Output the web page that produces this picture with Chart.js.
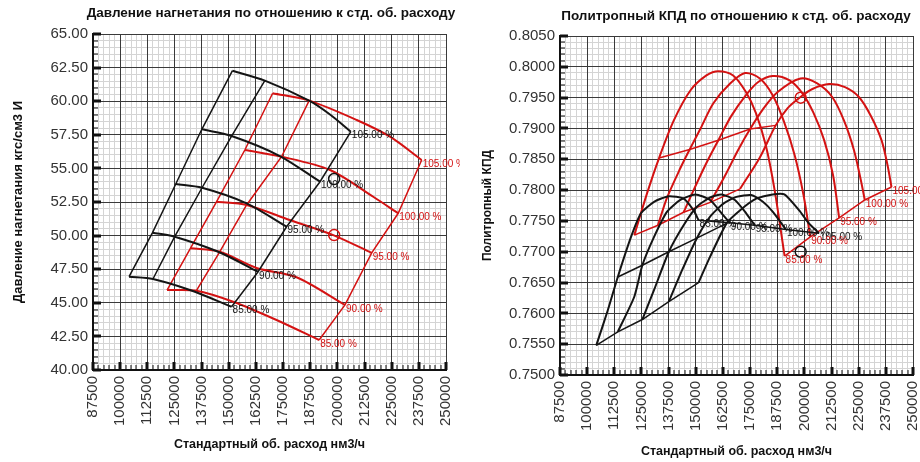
<!DOCTYPE html>
<html>
<head>
<meta charset="utf-8">
<script src="https://cdn.jsdelivr.net/npm/chart.js@4.4.0/dist/chart.umd.min.js"></script>
<style>
    body { margin: 0; background: #fff; width: 920px; height: 462px; overflow: hidden; font-family: "Liberation Sans", Arial, sans-serif; }
    .panel { position: absolute; top: 0; width: 460px; height: 462px; }
    .ttl { position: absolute; font-weight: bold; font-size: 13.5px; line-height: 16px; white-space: nowrap; transform: translateX(-50%); color: #111; }
</style>
</head>
<body>
<div class="panel" style="left:0">
    <canvas id="pressureChart" width="460" height="462"></canvas>
    <div class="ttl" style="left:271px;top:5px">Давление нагнетания по отношению к стд. об. расходу</div>
</div>
<div class="panel" style="left:460px">
    <canvas id="effChart" width="460" height="462"></canvas>
    <div class="ttl" style="left:276px;top:8px">Политропный КПД по отношению к стд. об. расходу</div>
</div>
<script>
const speedLabels = ['85.00 %', '90.00 %', '95.00 %', '100.00 %', '105.00 %'];
const xTicks = { min: 87500, max: 250000, step: 12500, minor: 2500 };

// давление нагнетания - черная карта
const pBlack85 = [[104100, 46.94], [115100, 46.77], [132100, 45.95], [151300, 44.71]];
const pBlack90 = [[114900, 50.22], [125100, 49.92], [145100, 48.80], [163500, 47.31]];
const pBlack95 = [[125600, 53.84], [137700, 53.56], [158200, 52.40], [176600, 50.66]];
const pBlack100 = [[137600, 57.91], [151300, 57.41], [173500, 55.92], [192000, 54.01]];
const pBlack105 = [[151700, 62.27], [166600, 61.53], [187000, 60.04], [196600, 59.01], [206200, 57.73]];
const pBlackSurge = [[104100, 46.94], [114900, 50.22], [125600, 53.84], [137600, 57.91], [151700, 62.27]];
const pBlackMid = [[115100, 46.77], [125100, 49.92], [137700, 53.56], [151300, 57.41], [166600, 61.53]];
const pBlackChoke = [[151300, 44.71], [163500, 47.31], [176600, 50.66], [192000, 54.01], [206200, 57.73]];
// давление нагнетания - красная карта
const pRed85 = [[121600, 45.95], [135100, 45.90], [152000, 45.08], [172000, 43.72], [191600, 42.23]];
const pRed90 = [[132400, 49.06], [145900, 48.80], [162800, 47.59], [181200, 46.90], [203500, 44.84]];
const pRed95 = [[144400, 52.52], [158200, 52.28], [178100, 51.16], [198100, 50.04], [215800, 48.71]];
const pRed100 = [[157400, 56.37], [174300, 55.87], [196600, 54.88], [216500, 52.89], [228000, 51.66]];
const pRed105 = [[170200, 60.59], [187000, 60.04], [208900, 58.60], [224200, 57.36], [238800, 55.63]];
const pRedSurge = [[121600, 45.95], [132400, 49.06], [144400, 52.52], [157400, 56.37], [170200, 60.59]];
const pRedMid = [[135100, 45.90], [145900, 48.80], [158200, 52.28], [174300, 55.87], [187000, 60.04]];
const pRedChoke = [[191600, 42.23], [203500, 44.84], [215800, 48.71], [228000, 51.66], [238800, 55.63]];
const pOpBlack = [[198500, 54.21]];
const pOpRed = [[198500, 50.04]];

// политропный КПД - черная карта
const eBlack85 = [[104200, 0.7548], [109500, 0.7605], [114100, 0.7659], [120200, 0.7724], [124700, 0.7762], [130800, 0.7781], [137600, 0.7790], [144400, 0.7786], [149000, 0.7767], [151300, 0.7751]];
const eBlack90 = [[114100, 0.7570], [121700, 0.7627], [125400, 0.7678], [130800, 0.7724], [136800, 0.7765], [142900, 0.7784], [149800, 0.7793], [156600, 0.7784], [162700, 0.7759], [165700, 0.7747]];
const eBlack95 = [[125400, 0.7590], [130800, 0.7638], [137600, 0.7700], [144400, 0.7743], [150500, 0.7773], [156600, 0.7788], [161900, 0.7793], [168000, 0.7784], [173300, 0.7762], [177100, 0.7743]];
const eBlack100 = [[137600, 0.7619], [143700, 0.7670], [150500, 0.7722], [156600, 0.7757], [162700, 0.7778], [168700, 0.7789], [175500, 0.7792], [180900, 0.7781], [185400, 0.7765], [191500, 0.7736]];
const eBlack105 = [[151300, 0.7650], [156600, 0.7692], [164200, 0.7746], [170300, 0.7767], [177800, 0.7786], [185400, 0.7793], [190800, 0.7793], [197600, 0.7767], [202100, 0.7746], [206700, 0.7730]];
const eBlackSurge = [[104200, 0.7548], [114100, 0.7570], [125400, 0.7590], [137600, 0.7619], [151300, 0.7650]];
const eBlackMid = [[114100, 0.7659], [125400, 0.7678], [137600, 0.7700], [150500, 0.7722], [164200, 0.7746]];
const eBlackChoke = [[151300, 0.7751], [165700, 0.7747], [177100, 0.7743], [191500, 0.7736], [206700, 0.7730]];
// политропный КПД - красная карта
const eRed85 = [[121700, 0.7727], [127600, 0.7795], [133100, 0.7852], [139900, 0.7913], [147600, 0.7962], [154900, 0.7986], [160400, 0.7993], [167200, 0.7986], [173100, 0.7959], [177700, 0.7925], [182200, 0.7873], [186300, 0.7800], [190900, 0.7693]];
const eRed90 = [[132600, 0.7743], [136700, 0.7787], [143100, 0.7837], [147200, 0.7866], [152200, 0.7900], [158100, 0.7941], [165800, 0.7973], [172700, 0.7990], [179500, 0.7981], [185400, 0.7954], [190400, 0.7913], [195500, 0.7857], [199600, 0.7792], [202700, 0.7724]];
const eRed95 = [[144400, 0.7764], [149000, 0.7800], [154900, 0.7844], [160400, 0.7881], [166300, 0.7920], [173100, 0.7954], [178600, 0.7975], [185400, 0.7985], [193200, 0.7978], [199100, 0.7957], [204100, 0.7926], [209100, 0.7881], [213200, 0.7824], [216000, 0.7755]];
const eRed100 = [[156700, 0.7780], [164000, 0.7827], [169500, 0.7865], [175000, 0.7899], [180900, 0.7931], [187700, 0.7959], [198200, 0.7981], [205900, 0.7973], [212800, 0.7951], [218200, 0.7913], [222800, 0.7865], [226000, 0.7816], [227800, 0.7784]];
const eRed105 = [[170400, 0.7802], [179500, 0.7853], [186800, 0.7905], [192300, 0.7933], [198200, 0.7951], [203700, 0.7964], [211400, 0.7972], [218700, 0.7967], [225100, 0.7951], [230500, 0.7921], [235500, 0.7881], [238300, 0.7840], [240100, 0.7805]];
const eRedSurge = [[121700, 0.7727], [132600, 0.7743], [144400, 0.7764], [156700, 0.7780], [170400, 0.7802]];
const eRedMid = [[133100, 0.7852], [147200, 0.7866], [160400, 0.7881], [175000, 0.7899], [186800, 0.7905]];
const eRedChoke = [[190900, 0.7693], [202700, 0.7724], [216000, 0.7755], [227800, 0.7784], [240100, 0.7805]];
const eOpBlack = [[198300, 0.7700]];
const eOpRed = [[198300, 0.7950]];

const FONT = '"Liberation Sans", Arial, sans-serif';
const BLACK = '#141414';
const RED = 'rgb(212, 18, 18)';
Chart.defaults.font.family = FONT;
Chart.defaults.color = '#333';

const pts = arr => arr.map(([x, y]) => ({ x, y }));
const curve = (arr, color, label, tension) => ({
    data: pts(arr), borderColor: color, borderWidth: 2, tension: tension,
    pointRadius: 0, showLine: true, fill: false, endLabel: label
});
const straight = (arr, color) => ({
    data: pts(arr), borderColor: color, borderWidth: 1.5, tension: 0,
    pointRadius: 0, showLine: true, fill: false
});
const opPoint = (arr, color) => ({
    data: pts(arr), borderColor: color, backgroundColor: 'rgba(0,0,0,0)',
    pointRadius: 5.5, pointBorderWidth: 1.5, showLine: false
});

// процентные подписи у концов кривых
const endLabels = {
    id: 'endLabels',
    afterDatasetsDraw(chart) {
        const { ctx, scales: { x, y } } = chart;
        ctx.save();
        ctx.font = '10px ' + FONT;
        ctx.textBaseline = 'middle';
        chart.data.datasets.forEach(ds => {
            if (!ds.endLabel) return;
            const last = ds.data[ds.data.length - 1];
            ctx.fillStyle = ds.borderColor;
            ctx.fillText(ds.endLabel, x.getPixelForValue(last.x) + 1, y.getPixelForValue(last.y) + 4);
        });
        ctx.restore();
    }
};

// засечки внутрь поля графика
const innerTicks = {
    id: 'innerTicks',
    afterDraw(chart) {
        const { ctx, chartArea: a, scales: { x, y, xm, ym } } = chart;
        ctx.save();
        ctx.fillStyle = '#111';
        xm.ticks.forEach(t => ctx.fillRect(Math.round(x.getPixelForValue(t.value)) - 0.5, a.bottom - 5, 1, 5));
        x.ticks.forEach(t => ctx.fillRect(Math.round(x.getPixelForValue(t.value)) - 1.5, a.bottom - 8, 3, 8));
        ym.ticks.forEach(t => ctx.fillRect(a.left, Math.round(y.getPixelForValue(t.value)) - 0.5, 5, 1));
        y.ticks.forEach(t => ctx.fillRect(a.left, Math.round(y.getPixelForValue(t.value)) - 1.5, 8, 3));
        ctx.restore();
    }
};

function makeMap(canvasId, datasets, ax) {
    return new Chart(document.getElementById(canvasId), {
        type: 'scatter',
        data: { datasets },
        options: {
            responsive: false,
            animation: false,
            devicePixelRatio: 1,
            layout: { padding: ax.pad },
            plugins: { legend: { display: false }, tooltip: { enabled: false } },
            scales: {
                xm: {
                    type: 'linear', position: 'bottom', min: xTicks.min, max: xTicks.max,
                    ticks: { display: false, stepSize: xTicks.minor, autoSkip: false },
                    grid: { color: '#d4d4d4', drawTicks: false, z: -2 },
                    border: { display: false },
                    afterFit: s => { s.height = 0; s.paddingLeft = 0; s.paddingRight = 0; }
                },
                ym: {
                    type: 'linear', position: 'left', min: ax.yMin, max: ax.yMax,
                    ticks: { display: false, stepSize: ax.yMinor, autoSkip: false },
                    grid: { color: '#d4d4d4', drawTicks: false, z: -2 },
                    border: { display: false },
                    afterFit: s => { s.width = 0; s.paddingTop = 0; s.paddingBottom = 0; }
                },
                x: {
                    type: 'linear', position: 'bottom', min: xTicks.min, max: xTicks.max,
                    ticks: {
                        stepSize: xTicks.step, autoSkip: false, minRotation: 90, maxRotation: 90,
                        padding: 6, color: '#333', font: { size: 15 }, callback: v => String(v)
                    },
                    grid: { color: '#3a3a3a', drawTicks: false },
                    border: { color: '#111', width: 2 },
                    title: {
                        display: true, text: 'Стандартный об. расход нм3/ч', color: '#111',
                        font: { size: 12.5, weight: 'bold' }, padding: { top: 0, bottom: ax.xTitlePad }
                    },
                    afterFit: s => { s.height = ax.xH; s.paddingLeft = 0; s.paddingRight = 0; }
                },
                y: {
                    type: 'linear', position: 'left', min: ax.yMin, max: ax.yMax,
                    ticks: {
                        stepSize: ax.yStep, autoSkip: false, padding: 5, color: '#333',
                        font: { size: 15 }, callback: v => Number(v).toFixed(ax.dec)
                    },
                    grid: { color: '#3a3a3a', drawTicks: false },
                    border: { color: '#111', width: 2 },
                    title: {
                        display: true, text: ax.yTitle, color: '#111',
                        font: { size: ax.yTitleSize, weight: 'bold' }, padding: { top: ax.yTitlePad, bottom: 0 }
                    },
                    afterFit: s => { s.width = ax.yW; s.paddingTop = 0; s.paddingBottom = 0; }
                }
            }
        },
        plugins: [innerTicks, endLabels]
    });
}

const pressureSets = [
    opPoint(pOpBlack, BLACK), opPoint(pOpRed, RED),
    curve(pBlack85, BLACK, speedLabels[0], 0.3), curve(pBlack90, BLACK, speedLabels[1], 0.3),
    curve(pBlack95, BLACK, speedLabels[2], 0.3), curve(pBlack100, BLACK, speedLabels[3], 0.3),
    curve(pBlack105, BLACK, speedLabels[4], 0.3),
    straight(pBlackSurge, BLACK), straight(pBlackMid, BLACK), straight(pBlackChoke, BLACK),
    curve(pRed85, RED, speedLabels[0], 0.3), curve(pRed90, RED, speedLabels[1], 0.3),
    curve(pRed95, RED, speedLabels[2], 0.3), curve(pRed100, RED, speedLabels[3], 0.3),
    curve(pRed105, RED, speedLabels[4], 0.3),
    straight(pRedSurge, RED), straight(pRedMid, RED), straight(pRedChoke, RED)
];

const effSets = [
    opPoint(eOpBlack, BLACK), opPoint(eOpRed, RED),
    curve(eBlack85, BLACK, speedLabels[0], 0.2), curve(eBlack90, BLACK, speedLabels[1], 0.2),
    curve(eBlack95, BLACK, speedLabels[2], 0.2), curve(eBlack100, BLACK, speedLabels[3], 0.2),
    curve(eBlack105, BLACK, speedLabels[4], 0.2),
    straight(eBlackSurge, BLACK), straight(eBlackMid, BLACK), straight(eBlackChoke, BLACK),
    curve(eRed85, RED, speedLabels[0], 0.3), curve(eRed90, RED, speedLabels[1], 0.3),
    curve(eRed95, RED, speedLabels[2], 0.3), curve(eRed100, RED, speedLabels[3], 0.3),
    curve(eRed105, RED, speedLabels[4], 0.3),
    straight(eRedSurge, RED), straight(eRedMid, RED), straight(eRedChoke, RED)
];

makeMap('pressureChart', pressureSets, {
    pad: { top: 34, right: 14, left: 0, bottom: 0 },
    yMin: 40, yMax: 65, yStep: 2.5, yMinor: 0.5, dec: 2,
    yW: 93, xH: 92, yTitlePad: 11, xTitlePad: 10, yTitleSize: 13,
    yTitle: 'Давление нагнетания кгс/см3 И'
});

makeMap('effChart', effSets, {
    pad: { top: 36, right: 3, left: 0, bottom: 0 },
    yMin: 0.75, yMax: 0.805, yStep: 0.005, yMinor: 0.001, dec: 4,
    yW: 100, xH: 87, yTitlePad: 20, xTitlePad: 3, yTitleSize: 12,
    yTitle: 'Политропный КПД'
});
</script>
</body>
</html>
